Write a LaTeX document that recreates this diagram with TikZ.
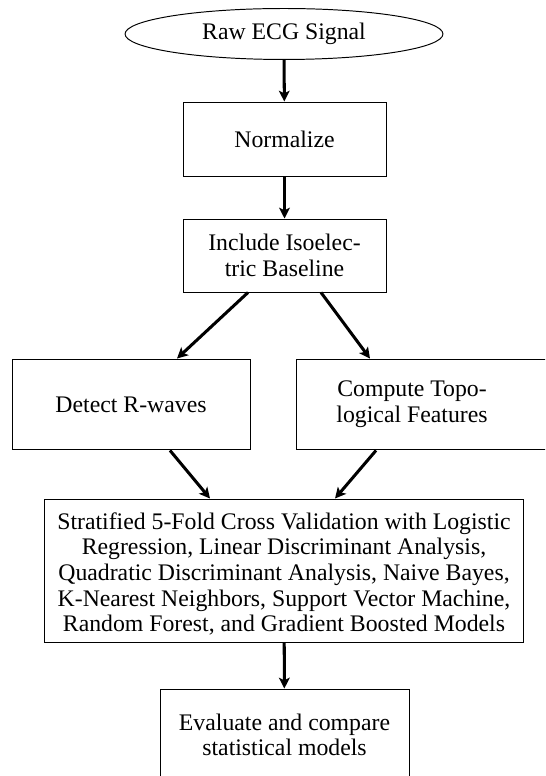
\documentclass[tikz,border=0pt]{standalone}
\usepackage{fontspec}
\setmainfont{Liberation Serif}
\usetikzlibrary{shapes.geometric,arrows.meta,calc}
\tikzset{
  box/.style={draw, line width=0.45pt, rectangle, align=center, inner sep=0pt, font=\fontsize{11}{11.9}\selectfont},
  oval/.style={draw, line width=0.45pt, ellipse, align=center, inner sep=0pt, font=\fontsize{11}{11.9}\selectfont},
  txt/.style={align=center, font=\fontsize{11}{11.9}\selectfont},
  flow/.style={line width=1.4pt, -{Stealth[length=5pt,width=5pt,inset=1.2pt]}}
}
\begin{document}
\begin{tikzpicture}[x=0.463pt,y=-0.463pt]
\useasboundingbox (0,0) rectangle (545,776);
\clip (0,0) rectangle (545,776);
\node[oval, minimum width=147.2pt, minimum height=23.6pt] (raw) at (284,34) {Raw ECG Signal};
\node[box, minimum width=94pt, minimum height=34.7pt] (norm) at (284.5,139.5) {Normalize};
\node[box, minimum width=94pt, minimum height=33.8pt] (incl) at (284.5,255.5) {Include Isoelec-\\tric Baseline};
\node[box, minimum width=110.2pt, minimum height=42.1pt] (detect) at (131,404.5) {Detect R-waves};
\node[box, minimum width=122.2pt, minimum height=42.1pt,
      label={[txt, xshift=-7.4pt]center:Compute Topo-\\logical Features}] (topo) at (428,404.5) {};
\node[box, minimum width=222.2pt, minimum height=66.2pt,
      label={[txt, yshift=-1.6pt]center:Stratified 5-Fold Cross Validation with Logistic\\
   Regression, Linear Discriminant Analysis,\\
   Quadratic Discriminant Analysis, Naive Bayes,\\
   K-Nearest Neighbors, Support Vector Machine,\\
   Random Forest, and Gradient Boosted Models}] (cv) at (284,570.5) {};
\node[box, minimum width=115.3pt, minimum height=42.6pt] (eval) at (284.5,735) {Evaluate and compare\\statistical models};

\draw[flow] (raw) -- (norm);
\draw[flow] (norm) -- (incl);
\draw[flow] ($(incl.south)+(-36.5,0)$) -- ($(detect.north)+(46,0)$);
\draw[flow] ($(incl.south)+(36.5,0)$) -- ($(topo.north)+(-58,0)$);
\draw[flow] ($(detect.south)+(39,0)$) -- ($(cv.north)+(-74,0)$);
\draw[flow] ($(topo.south)+(-52,0)$) -- ($(cv.north)+(51,0)$);
\draw[flow] (cv) -- (eval);
\end{tikzpicture}
\end{document}
